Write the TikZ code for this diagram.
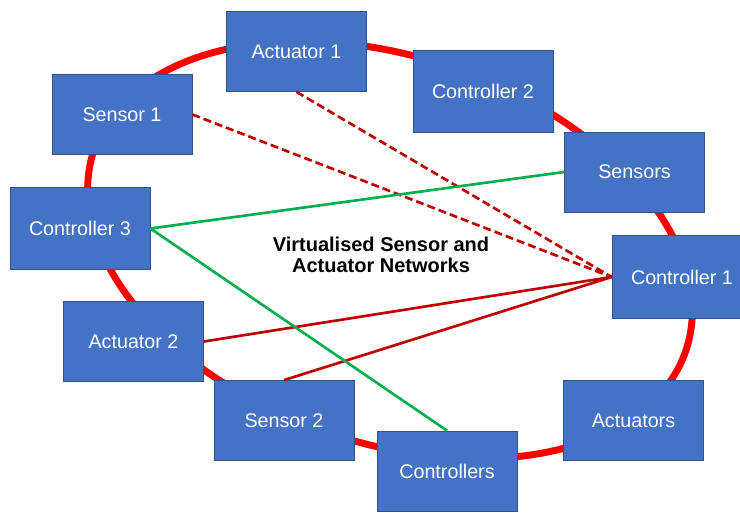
\documentclass[tikz,border=0pt]{standalone}
\usepackage{fontspec}
\setmainfont{Liberation Sans}
\definecolor{boxblue}{HTML}{4472C4}
\definecolor{boxline}{HTML}{2F528F}
\definecolor{linkred}{HTML}{C00000}
\definecolor{linkgreen}{HTML}{00B050}
\begin{document}
\begin{tikzpicture}[x=0.75pt, y=0.75pt,
  unit/.style={draw=boxline, line width=0.6pt, fill=boxblue, text=white,
    minimum width=105pt, minimum height=60pt, inner sep=0pt,
    font=\fontsize{14.8}{17}\selectfont},
  ring/.style={red, line width=5.2pt},
  vlink/.style={linkred, line width=2pt, dash pattern=on 6pt off 3pt},
  rlink/.style={linkred, line width=2pt},
  glink/.style={linkgreen, line width=2pt}]
  \useasboundingbox (0,0) rectangle (740,512);
  % Ring
  \draw[ring, rotate around={-18.8:(390,262)}] (390,262) ellipse [x radius=312.5, y radius=193];
  % Units
  \node[unit] (act1) at (296.5,460.5) {Actuator 1};
  \node[unit] (sen1) at (122,397.5) {Sensor 1};
  \node[unit, minimum height=62pt] (con3) at (80,283.5) {Controller 3};
  \node[unit, minimum height=62pt] (con2) at (483,420.5) {Controller 2};
  \node[unit] (sens) at (634.5,340) {Sensors};
  \node[unit, minimum height=62pt] (con1) at (682,235) {Controller 1};
  \node[unit] (act2) at (133.5,170.5) {Actuator 2};
  \node[unit] (sen2) at (284,91.5) {Sensor 2};
  \node[unit] (ctrls) at (447,41) {Controllers};
  \node[unit] (acts) at (633.5,91.5) {Actuators};
  % Label
  \node[align=center, font=\fontsize{15}{15.75}\selectfont\bfseries] (title) at (381,257)
    {Virtualised Sensor and\\Actuator Networks};
  % Links
  \draw[vlink] (sen1.east) -- (con1.west);
  \draw[vlink] (act1.south) -- (con1.west);
  \draw[rlink] (act2.east) -- (con1.west);
  \draw[rlink] (sen2.north) -- (con1.west);
  \draw[glink] (con3.east) -- (sens.west);
  \draw[glink] (con3.east) -- (ctrls.north);
\end{tikzpicture}
\end{document}
